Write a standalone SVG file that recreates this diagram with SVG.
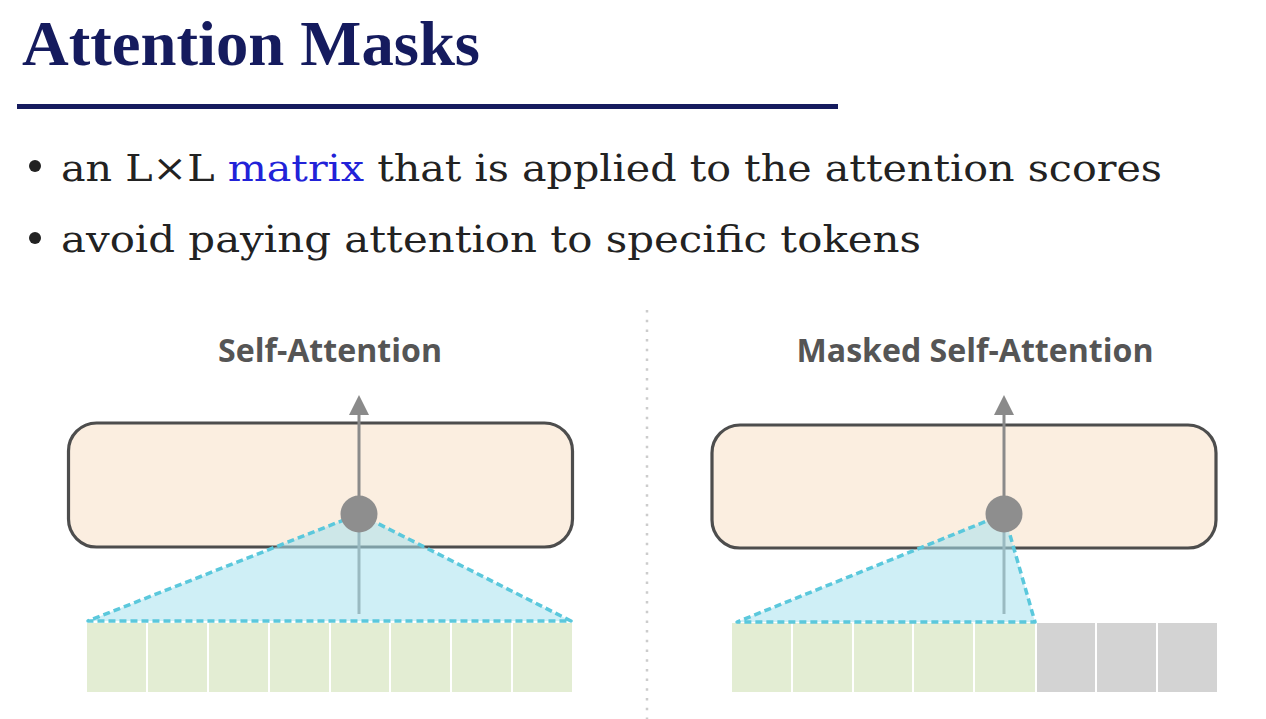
<svg xmlns="http://www.w3.org/2000/svg" width="1266" height="719" viewBox="0 0 1266 719">
  <style>
    .title { font-family: "Liberation Serif", "DejaVu Serif", serif; font-weight: bold; font-size: 64px; fill: #151b5e; }
    .bullet { font-family: "DejaVu Serif", "Liberation Serif", serif; font-size: 38px; fill: #222222; }
    .blue { fill: #2222d8; }
    .head { font-family: "Open Sans", "Liberation Sans", sans-serif; font-weight: bold; font-size: 32px; fill: #555555; }
    .box { fill: #fbeee0; stroke: #4d4d4d; stroke-width: 3.2; }
    .axis { stroke: #8a8a8a; stroke-width: 3; fill: none; }
    .tri { fill: #a8e2ee; fill-opacity: 0.55; stroke: #5bc8dc; stroke-width: 3.5; stroke-dasharray: 7 4; stroke-linejoin: round; }
    .dot { fill: #8e8e8e; }
    .cell { fill: #e3edd3; }
    .masked { fill: #d3d3d3; }
  </style>
  <defs>
    <marker id="arrow" markerUnits="userSpaceOnUse" markerWidth="20" markerHeight="20" refX="0" refY="9" orient="auto" viewBox="0 0 18 18">
      <path d="M0,0 L18,9 L0,18 Z" fill="#8a8a8a"/>
    </marker>
  </defs>
  <rect width="1266" height="719" fill="#ffffff"/>

  <g id="title">
    <text class="title" x="22" y="65" textLength="458" lengthAdjust="spacingAndGlyphs">Attention Masks</text>
    <rect x="17" y="104" width="821" height="5" fill="#151b5e"/>
  </g>

  <g id="bullets">
    <circle cx="35" cy="166" r="6" fill="#222222"/>
    <text class="bullet" x="61" y="181" textLength="1101" lengthAdjust="spacingAndGlyphs">an L×L <tspan class="blue">matrix</tspan> that is applied to the attention scores</text>
    <circle cx="35" cy="238" r="6" fill="#222222"/>
    <text class="bullet" x="61" y="252" textLength="860" lengthAdjust="spacingAndGlyphs">avoid paying attention to specific tokens</text>
  </g>

  <g id="divider">
    <line x1="647" y1="310" x2="647" y2="719" stroke="#cccccc" stroke-width="2.5" stroke-dasharray="2.5 7.2"/>
  </g>

  <g id="self-attention">
    <text class="head" x="330" y="362" text-anchor="middle" textLength="224" lengthAdjust="spacingAndGlyphs">Self-Attention</text>
    <rect class="box" x="68.5" y="423" width="504" height="124" rx="28"/>
    <g id="sa-tokens">
      <rect class="cell" x="87" y="623" width="59" height="69"/>
      <rect class="cell" x="148" y="623" width="59" height="69"/>
      <rect class="cell" x="209" y="623" width="59" height="69"/>
      <rect class="cell" x="270" y="623" width="59" height="69"/>
      <rect class="cell" x="331" y="623" width="58" height="69"/>
      <rect class="cell" x="391" y="623" width="59" height="69"/>
      <rect class="cell" x="452" y="623" width="59" height="69"/>
      <rect class="cell" x="513" y="623" width="59" height="69"/>
    </g>
  </g>

  <g id="masked-self-attention">
    <text class="head" x="975" y="362" text-anchor="middle" textLength="357" lengthAdjust="spacingAndGlyphs">Masked Self-Attention</text>
    <rect class="box" x="712" y="425" width="504" height="123" rx="28"/>
    <g id="msa-tokens">
      <rect class="cell" x="732" y="623" width="59" height="69"/>
      <rect class="cell" x="793" y="623" width="59" height="69"/>
      <rect class="cell" x="854" y="623" width="58" height="69"/>
      <rect class="cell" x="914" y="623" width="59" height="69"/>
      <rect class="cell" x="975" y="623" width="60" height="69"/>
      <rect class="masked" x="1037" y="623" width="58" height="69"/>
      <rect class="masked" x="1097" y="623" width="59" height="69"/>
      <rect class="masked" x="1158" y="623" width="59" height="69"/>
    </g>
  </g>

  <g id="connectors">
    <line class="axis" x1="359" y1="614" x2="359" y2="415" marker-end="url(#arrow)"/>
    <polygon class="tri" points="359,514 571,621 88,621"/>
    <circle class="dot" cx="359" cy="514" r="18.5"/>

    <line class="axis" x1="1004" y1="614" x2="1004" y2="415" marker-end="url(#arrow)"/>
    <polygon class="tri" points="1004,514 1035,622 737,622"/>
    <circle class="dot" cx="1004" cy="514" r="18.5"/>
  </g>
</svg>
